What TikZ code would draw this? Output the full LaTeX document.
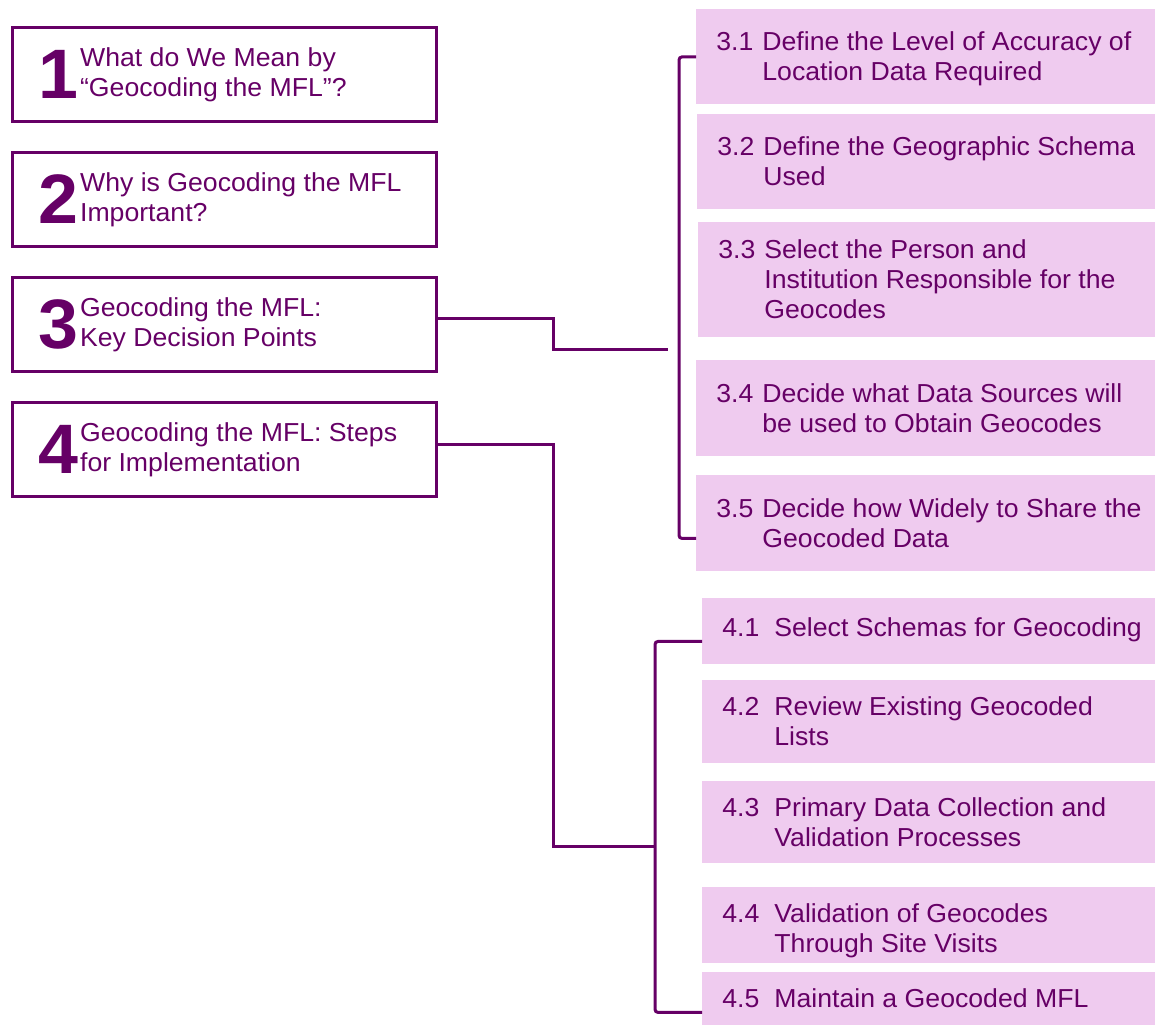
\documentclass[tikz,border=0pt]{standalone}
\usepackage{fontspec}
\setmainfont[FakeStretch=1.025]{Liberation Sans}
\usepackage{xcolor}
\usepackage{tikz}
\usetikzlibrary{positioning}

\definecolor{mflpurple}{RGB}{102,0,102}
\definecolor{mflpink}{RGB}{239,203,239}

\begin{document}
\begin{tikzpicture}[x=0.5pt, y=-0.5pt,
          every node/.style = {text=mflpurple, inner sep=0pt},
          chapter/.style = {draw=mflpurple, line width=1.5pt, anchor=north west,
            minimum width=212pt, minimum height=47pt},
          bignum/.style = {font=\fontsize{35}{35}\selectfont\bfseries},
          title/.style = {align=left, font=\fontsize{13}{15}\selectfont},
          decision/.style = {fill=mflpink, anchor=north west,
            minimum width=229.5pt, minimum height=#1},
          stepbox/.style = {fill=mflpink, anchor=north west,
            minimum width=226.5pt, minimum height=#1},
          item/.style = {anchor=west, font=\fontsize{13}{15}\selectfont, yshift=-1.5pt},
          link/.style = {draw=mflpurple, line width=1.5pt}]
          \useasboundingbox (0,0) rectangle (1155,1025);

          % chapters
          \node[chapter] (c1) at (11,26) {};
          \node[chapter] (c2) at (11,151) {};
          \node[chapter] (c3) at (11,276) {};
          \node[chapter] (c4) at (11,401) {};

          \node[bignum, right=13.5pt of c1.west] (n1) {1};
          \node[title, right=0.5pt of n1] (t1) {What do We Mean by\\``Geocoding the MFL''?};
          \node[bignum, right=13.5pt of c2.west] (n2) {2};
          \node[title, right=0.5pt of n2] (t2) {Why is Geocoding the MFL\\Important?};
          \node[bignum, right=13.5pt of c3.west] (n3) {3};
          \node[title, right=0.5pt of n3] (t3) {Geocoding the MFL:\\Key Decision Points};
          \node[bignum, right=13.5pt of c4.west] (n4) {4};
          \node[title, right=0.5pt of n4] (t4) {Geocoding the MFL: Steps\\for Implementation};

          % key decision points
          \node[decision=47.5pt] (s31) at (696,9) {};
          \node[decision=47.5pt] (s32) at (697,114) {};
          \node[decision=57.5pt] (s33) at (698,222) {};
          \node[decision=48pt] (s34) at (696,360) {};
          \node[decision=48pt] (s35) at (696,475) {};

          \node[item, right=10pt of s31.west] (t31) {\begin{tabular}{@{}p{23pt}@{}l@{}}
            3.1 & Define the Level of Accuracy of\\ & Location Data Required\end{tabular}};
          \node[item, right=10pt of s32.west] (t32) {\begin{tabular}{@{}p{23pt}@{}l@{}}
            3.2 & Define the Geographic Schema\\ & Used\end{tabular}};
          \node[item, right=10pt of s33.west] (t33) {\begin{tabular}{@{}p{23pt}@{}l@{}}
            3.3 & Select the Person and\\ & Institution Responsible for the\\ & Geocodes\end{tabular}};
          \node[item, right=10pt of s34.west] (t34) {\begin{tabular}{@{}p{23pt}@{}l@{}}
            3.4 & Decide what Data Sources will\\ & be used to Obtain Geocodes\end{tabular}};
          \node[item, right=10pt of s35.west] (t35) {\begin{tabular}{@{}p{23pt}@{}l@{}}
            3.5 & Decide how Widely to Share the\\ & Geocoded Data\end{tabular}};

          % steps for implementation
          \node[stepbox=33pt] (s41) at (702,598) {};
          \node[stepbox=41.5pt] (s42) at (702,680) {};
          \node[stepbox=41pt] (s43) at (702,781) {};
          \node[stepbox=38pt] (s44) at (702,887) {};
          \node[stepbox=26.5pt] (s45) at (702,972) {};

          \node[item, right=10pt of s41.west, yshift=2pt] (t41) {\begin{tabular}{@{}p{26pt}@{}l@{}}
            4.1 & Select Schemas for Geocoding\end{tabular}};
          \node[item, right=10pt of s42.west] (t42) {\begin{tabular}{@{}p{26pt}@{}l@{}}
            4.2 & Review Existing Geocoded\\ & Lists\end{tabular}};
          \node[item, right=10pt of s43.west] (t43) {\begin{tabular}{@{}p{26pt}@{}l@{}}
            4.3 & Primary Data Collection and\\ & Validation Processes\end{tabular}};
          \node[item, right=10pt of s44.west, yshift=-1.5pt] (t44) {\begin{tabular}{@{}p{26pt}@{}l@{}}
            4.4 & Validation of Geocodes\\ & Through Site Visits\end{tabular}};
          \node[item, right=10pt of s45.west] (t45) {\begin{tabular}{@{}p{26pt}@{}l@{}}
            4.5 & Maintain a Geocoded MFL\end{tabular}};

          % connectors
          \coordinate (j3) at (668,349);
          \coordinate (j4) at (655,846);
          \draw[link] ([yshift=3pt]c3.east) -- ++(115,0) |- (j3);
          \draw[link, rounded corners=1.5pt] (s31.west) -- ++(-17,0) |- ([yshift=-7.5pt]s35.west);
          \draw[link] ([yshift=2.75pt]c4.east) -- ++(115,0) |- (j4);
          \draw[link, rounded corners=1.5pt] ([yshift=-5pt]s41.west) -- ++(-47,0) |- ([yshift=-6.75pt]s45.west);
        \end{tikzpicture}
\end{document}
